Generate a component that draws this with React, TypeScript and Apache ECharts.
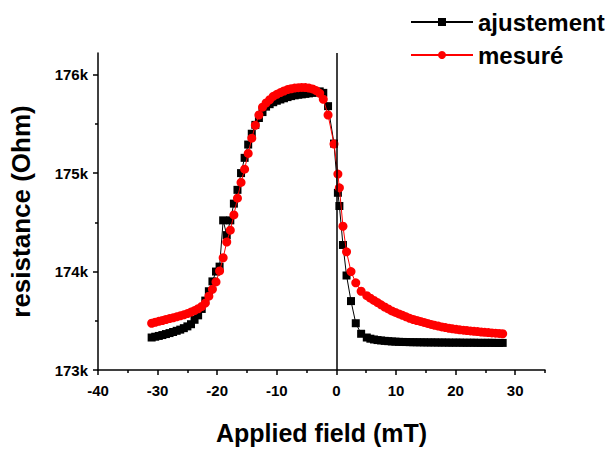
import React, { useEffect, useRef } from "react";
import * as echarts from "echarts";

// Applied field (mT), shared by both series
const field: number[] = [
  -31.0, -30.4, -29.8, -29.2, -28.6, -28.0, -27.4, -26.8, -26.2, -25.6,
  -25.0, -24.4, -23.8, -23.2, -22.6, -22.0, -21.4, -20.8, -20.2, -19.6,
  -19.0, -18.4, -17.8, -17.2, -16.6, -16.0, -15.4, -14.8, -14.2, -13.6,
  -13.0, -12.4, -11.8, -11.2, -10.6, -10.0, -9.4, -8.8, -8.2, -7.6,
  -7.0, -6.4, -5.8, -5.2, -4.6, -4.0, -3.4, -2.8, -2.2, -1.4,
  -0.4, 0.25, 0.5, 1.1, 1.7, 2.45, 3.25, 4.15, 5.1, 5.7,
  6.3, 6.9, 7.5, 8.1, 8.7, 9.3, 9.9, 10.5, 11.1, 11.7,
  12.3, 12.9, 13.5, 14.1, 14.7, 15.3, 15.9, 16.5, 17.1, 17.7,
  18.3, 18.9, 19.5, 20.1, 20.7, 21.3, 21.9, 22.5, 23.1, 23.7,
  24.3, 24.9, 25.5, 26.1, 26.7, 27.3, 27.9,
];

// resistance (kOhm) - fit
const ajustement: number[] = [
  173.33, 173.338, 173.346, 173.355, 173.365, 173.375, 173.386, 173.398, 173.41, 173.425,
  173.443, 173.465, 173.51, 173.555, 173.62, 173.705, 173.8, 173.9, 174.0, 174.05,
  174.52, 174.37, 174.52, 174.69, 174.83, 175.0, 175.155, 175.29, 175.4, 175.49,
  175.56, 175.62, 175.675, 175.7, 175.72, 175.735, 175.748, 175.76, 175.772, 175.782,
  175.79, 175.796, 175.8, 175.805, 175.81, 175.815, 175.82, 175.83, 175.815, 175.68,
  175.3, 174.8, 174.666, 174.27, 173.96, 173.7, 173.475, 173.368, 173.33, 173.318,
  173.31, 173.304, 173.3, 173.296, 173.293, 173.29, 173.288, 173.286, 173.285, 173.284,
  173.283, 173.282, 173.282, 173.281, 173.281, 173.28, 173.28, 173.28, 173.279, 173.279,
  173.279, 173.278, 173.278, 173.278, 173.278, 173.277, 173.277, 173.277, 173.277, 173.276,
  173.276, 173.276, 173.276, 173.276, 173.275, 173.275, 173.275,
];

// resistance (kOhm) - measured
const mesure: number[] = [
  173.475, 173.485, 173.494, 173.503, 173.513, 173.522, 173.53, 173.54, 173.55, 173.56,
  173.573, 173.588, 173.604, 173.622, 173.645, 173.68, 173.75, 173.82, 173.895, 174.006,
  174.14, 174.3, 174.42, 174.575, 174.745, 174.905, 175.04, 175.2, 175.355, 175.485,
  175.59, 175.67, 175.712, 175.745, 175.78, 175.8, 175.818, 175.834, 175.848, 175.857,
  175.864, 175.868, 175.87, 175.869, 175.864, 175.855, 175.838, 175.81, 175.75, 175.59,
  175.295, 174.99, 174.85, 174.46, 174.2, 174.0, 173.885, 173.8, 173.755, 173.73,
  173.707, 173.685, 173.662, 173.64, 173.62, 173.6, 173.585, 173.57, 173.555, 173.54,
  173.525, 173.513, 173.503, 173.493, 173.483, 173.473, 173.463, 173.454, 173.446, 173.438,
  173.431, 173.424, 173.418, 173.413, 173.408, 173.404, 173.4, 173.397, 173.393, 173.39,
  173.386, 173.383, 173.38, 173.377, 173.374, 173.371, 173.368,
];

const xTicks: number[] = [-40, -30, -20, -10, 0, 10, 20, 30];
const xMinorTicks: number[] = [-35, -25, -15, -5, 5, 15, 25, 35];
const yTicks: number[] = [173, 174, 175, 176];
const yMinorTicks: number[] = [173.5, 174.5, 175.5];

const FONT = "'Liberation Sans', Arial, sans-serif";

export default function App() {
  const ref = useRef<HTMLDivElement>(null);

  useEffect(() => {
    if (!ref.current) return;
    const chart = echarts.init(ref.current, undefined, { renderer: "svg" });

    const pairs = (ys: number[]) => field.map((x, i) => [x, ys[i]]);

    const axisLineStyle = { color: "#000", width: 1.5 };

    chart.setOption({
      animation: false,
      backgroundColor: "#fff",
      textStyle: { fontFamily: FONT },
      grid: { left: 97, right: 65, top: 53, bottom: 73, containLabel: false },
      legend: {
        orient: "vertical",
        left: 405,
        top: 5,
        itemWidth: 62,
        itemHeight: 10,
        itemGap: 9,
        data: ["ajustement", "mesuré"],
        textStyle: { fontFamily: FONT, fontSize: 24, fontWeight: "bold", color: "#000", padding: [0, 0, 0, 0] },
      },
      xAxis: [
        {
          type: "value",
          min: -40,
          max: 35,
          position: "bottom",
          axisLine: { show: true, onZero: false, lineStyle: axisLineStyle },
          axisTick: { show: true, length: 5, customValues: xTicks, lineStyle: { color: "#000", width: 1.5 } },
          axisLabel: {
            customValues: xTicks,
            margin: 13,
            color: "#000",
            fontSize: 15,
            fontWeight: "bold",
            fontFamily: FONT,
            formatter: (v: number) => String(v),
          },
          splitLine: { show: false },
          name: "Applied field (mT)",
          nameLocation: "middle",
          nameGap: 50,
          nameTextStyle: { fontSize: 25, fontWeight: "bold", color: "#000", fontFamily: FONT },
        },
        {
          type: "value",
          min: -40,
          max: 35,
          position: "bottom",
          axisLine: { show: false, onZero: false },
          axisTick: { show: true, length: 3, customValues: xMinorTicks, lineStyle: { color: "#000", width: 1.5 } },
          axisLabel: { show: false },
          splitLine: { show: false },
        },
      ],
      yAxis: [
        {
          type: "value",
          min: 173,
          max: 176.22,
          position: "left",
          axisLine: { show: true, onZero: false, lineStyle: axisLineStyle },
          axisTick: { show: true, length: 5, customValues: yTicks, lineStyle: { color: "#000", width: 1.5 } },
          axisLabel: {
            customValues: yTicks,
            margin: 10,
            color: "#000",
            fontSize: 15,
            fontWeight: "bold",
            fontFamily: FONT,
            formatter: (v: number) => `${Math.round(v)}k`,
          },
          splitLine: { show: false },
          name: "resistance (Ohm)",
          nameLocation: "middle",
          nameGap: 64,
          nameTextStyle: { fontSize: 26, fontWeight: "bold", color: "#000", fontFamily: FONT },
        },
        {
          type: "value",
          min: 173,
          max: 176.22,
          position: "left",
          axisLine: { show: false, onZero: false },
          axisTick: { show: true, length: 3, customValues: yMinorTicks, lineStyle: { color: "#000", width: 1.5 } },
          axisLabel: { show: false },
          splitLine: { show: false },
        },
      ],
      series: [
        {
          name: "ajustement",
          type: "line",
          xAxisIndex: 0,
          yAxisIndex: 0,
          data: pairs(ajustement),
          symbol: "rect",
          symbolSize: 8,
          itemStyle: { color: "#000" },
          lineStyle: { color: "#000", width: 1 },
          z: 2,
          markLine: {
            silent: true,
            symbol: ["none", "none"],
            label: { show: false },
            lineStyle: { color: "#000", width: 1.5, type: "solid" },
            data: [{ xAxis: 0 }],
          },
        },
        {
          name: "mesuré",
          type: "line",
          xAxisIndex: 0,
          yAxisIndex: 0,
          data: pairs(mesure),
          symbol: "circle",
          symbolSize: 9,
          itemStyle: { color: "#ff0000" },
          lineStyle: { color: "#ff0000", width: 1 },
          z: 3,
        },
      ],
    });

    return () => chart.dispose();
  }, []);

  return (
    <div
      ref={ref}
      style={{ position: "absolute", left: 0, top: 0, width: 610, height: 450 }}
    />
  );
}
